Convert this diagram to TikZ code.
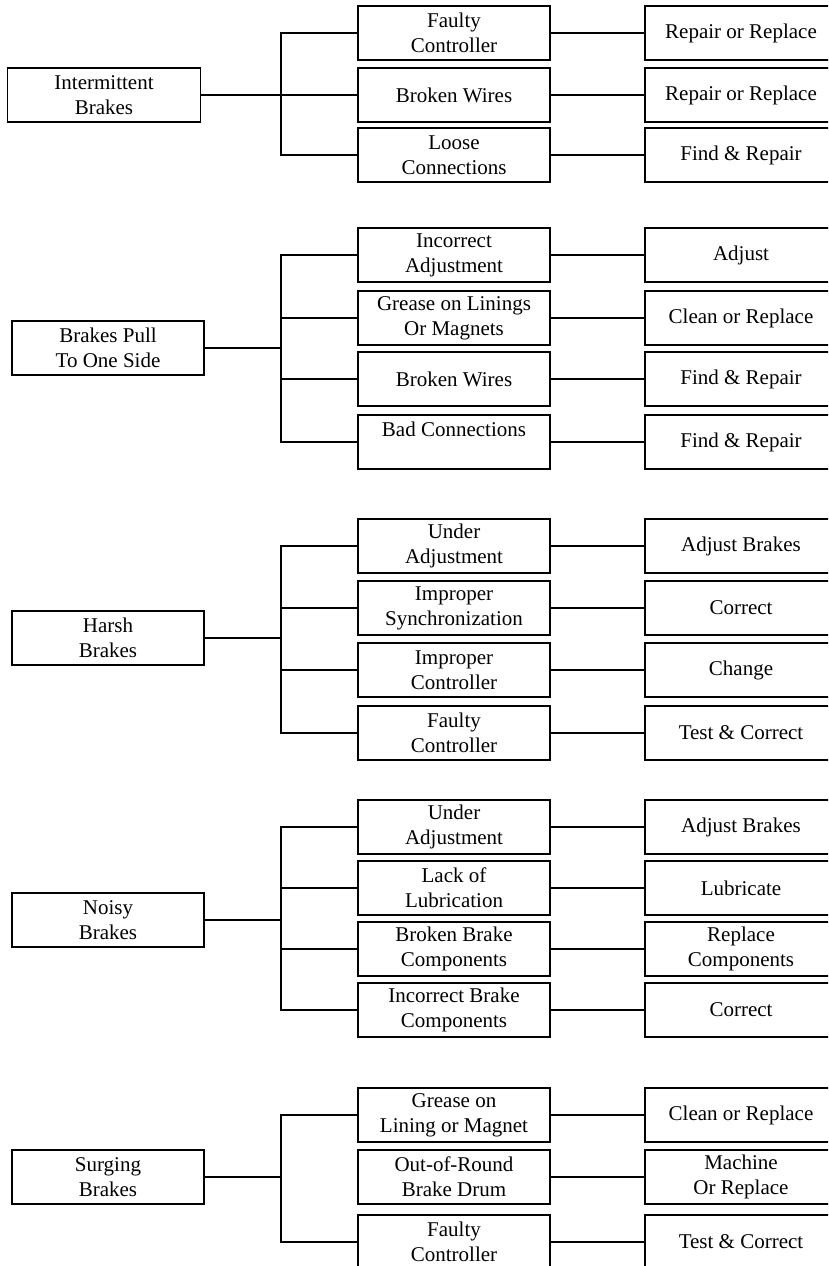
\documentclass[tikz,border=0pt]{standalone}
\usepackage{fontspec}
\setmainfont{Liberation Serif}
\usepackage{tikz}

\tikzset{
  probbox/.style={draw,rectangle,line width=1.5pt,minimum width=192pt,minimum height=54pt,inner sep=0pt,align=center,font=\fontsize{21}{25}\selectfont},
  conn/.style={line width=1.4pt}
}

\begin{document}
\begin{tikzpicture}[x=1pt,y=-1pt]
\clip (0,0) rectangle (828,1266);
%\draw [red,dashed] (281,0) -- (281,1266);

% Intermittent Brakes
\node [probbox,minimum width=193pt] (ib) at(104,95){Intermittent\\Brakes};
\coordinate (ibt) at(281,95);
\node [probbox] (ib1) at(454,33){Faulty\\Controller};
\node [probbox] (ib2) at(454,95){Broken Wires};
\node [probbox] (ib3) at(454,155){Loose\\Connections};
\node [probbox] (ib1v) at(741,33){Repair or Replace};
\node [probbox] (ib2v) at(741,95){Repair or Replace};
\node [probbox] (ib3v) at(741,155){Find \& Repair};

\draw[conn](ib) -- (ibt);
\draw[conn](ib1.west) -- (ib1.west -| ibt) -- (ib3.west -| ibt) -- (ib3.west);
\draw[conn](ib2.west) -- (ib2.west -| ibt);
\draw[conn](ib1) -- (ib1v);
\draw[conn](ib2) -- (ib2v);
\draw[conn](ib3) -- (ib3v);

% Brakes Pull To One Side
\node [probbox] (bp) at(108,348){Brakes Pull\\To One Side};
\coordinate (bpt) at(281,348);
\node [probbox] (bp1) at(454,255){Incorrect\\Adjustment};
\node [probbox] (bp2) at(454,318){Grease on Linings\\Or Magnets};
\node [probbox] (bp3) at(454,379){Broken Wires};
\node [probbox] (bp4) at(454,442){Bad Connections\\\mbox{}};
\node [probbox] (bp1v) at(741,255){Adjust};
\node [probbox] (bp2v) at(741,318){Clean or Replace};
\node [probbox] (bp3v) at(741,379){Find \& Repair};
\node [probbox] (bp4v) at(741,442){Find \& Repair};

\draw[conn](bp) -- (bpt);
\draw[conn](bp1.west) -- (bp1.west -| bpt) -- (bp4.west -| bpt) -- (bp4.west);
\draw[conn](bp2.west) -- (bp2.west -| bpt);
\draw[conn](bp3.west) -- (bp3.west -| bpt);
\draw[conn](bp1) -- (bp1v);
\draw[conn](bp2) -- (bp2v);
\draw[conn](bp3) -- (bp3v);
\draw[conn](bp4) -- (bp4v);

% Harsh Brakes
\node [probbox] (hb) at(108,638){Harsh\\Brakes};
\coordinate (hbt) at(281,638);
\node [probbox] (hb1) at(454,546){Under\\Adjustment};
\node [probbox] (hb2) at(454,608){Improper\\Synchronization};
\node [probbox] (hb3) at(454,670){Improper\\Controller};
\node [probbox] (hb4) at(454,733){Faulty\\Controller};
\node [probbox] (hb1v) at(741,546){Adjust Brakes};
\node [probbox] (hb2v) at(741,608){Correct};
\node [probbox] (hb3v) at(741,670){Change};
\node [probbox] (hb4v) at(741,733){Test \& Correct};

\draw[conn](hb) -- (hbt);
\draw[conn](hb1.west) -- (hb1.west -| hbt) -- (hb4.west -| hbt) -- (hb4.west);
\draw[conn](hb2.west) -- (hb2.west -| hbt);
\draw[conn](hb3.west) -- (hb3.west -| hbt);
\draw[conn](hb1) -- (hb1v);
\draw[conn](hb2) -- (hb2v);
\draw[conn](hb3) -- (hb3v);
\draw[conn](hb4) -- (hb4v);

% Noisy Brakes
\node [probbox] (nb) at(108,920){Noisy\\Brakes};
\coordinate (nbt) at(281,920);
\node [probbox] (nb1) at(454,827){Under\\Adjustment};
\node [probbox] (nb2) at(454,888){Lack of\\Lubrication};
\node [probbox] (nb3) at(454,949){Broken Brake\\Components};
\node [probbox] (nb4) at(454,1010){Incorrect Brake\\Components};
\node [probbox] (nb1v) at(741,827){Adjust Brakes};
\node [probbox] (nb2v) at(741,888){Lubricate};
\node [probbox] (nb3v) at(741,949){Replace\\Components};
\node [probbox] (nb4v) at(741,1010){Correct};

\draw[conn](nb) -- (nbt);
\draw[conn](nb1.west) -- (nb1.west -| nbt) -- (nb4.west -| nbt) -- (nb4.west);
\draw[conn](nb2.west) -- (nb2.west -| nbt);
\draw[conn](nb3.west) -- (nb3.west -| nbt);
\draw[conn](nb1) -- (nb1v);
\draw[conn](nb2) -- (nb2v);
\draw[conn](nb3) -- (nb3v);
\draw[conn](nb4) -- (nb4v);

% Surging Brakes
\node [probbox] (sb) at(108,1177){Surging\\Brakes};
\coordinate (sbt) at(281,1177);
\node [probbox] (sb1) at(454,1115){Grease on\\Lining or Magnet};
\node [probbox] (sb2) at(454,1177){Out-of-Round\\Brake Drum};
\node [probbox] (sb3) at(454,1242){Faulty\\Controller};
\node [probbox] (sb1v) at(741,1115){Clean or Replace};
\node [probbox] (sb2v) at(741,1177){Machine\\Or Replace};
\node [probbox] (sb3v) at(741,1242){Test \& Correct};

\draw[conn](sb) -- (sbt);
\draw[conn](sb1.west) -- (sb1.west -| sbt) -- (sb3.west -| sbt) -- (sb3.west);
\draw[conn](sb1) -- (sb1v);
\draw[conn](sb2) -- (sb2v);
\draw[conn](sb3) -- (sb3v);

\end{tikzpicture}
\end{document}
